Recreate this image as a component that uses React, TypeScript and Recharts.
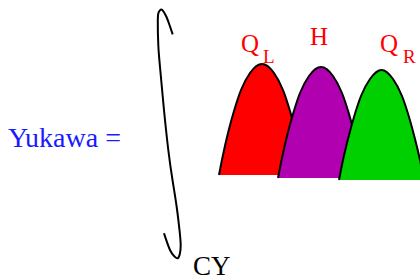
import React from 'react';
import { ComposedChart, Area, Line, XAxis, YAxis } from 'recharts';

// three bumps (x, height above the floor)
const qlBump = [
  { x: 219, y: 0 }, { x: 223, y: 20 }, { x: 228, y: 42 }, { x: 234, y: 64 },
  { x: 241, y: 85 }, { x: 250, y: 102 }, { x: 262, y: 111 }, { x: 274, y: 102 },
  { x: 283, y: 85 }, { x: 290, y: 64 }, { x: 296, y: 42 }, { x: 301, y: 20 },
  { x: 305, y: 0 },
];

const higgsBump = [
  { x: 278, y: -3 }, { x: 282, y: 17 }, { x: 287, y: 39 }, { x: 293, y: 61 },
  { x: 300, y: 82 }, { x: 309, y: 99 }, { x: 321, y: 108 }, { x: 333, y: 99 },
  { x: 342, y: 82 }, { x: 349, y: 61 }, { x: 355, y: 39 }, { x: 360, y: 17 },
  { x: 364, y: -3 },
];

const qrBump = [
  { x: 339, y: -5 }, { x: 343, y: 15 }, { x: 348, y: 36 }, { x: 354, y: 58 },
  { x: 361, y: 79 }, { x: 370, y: 96 }, { x: 381.5, y: 105 }, { x: 393, y: 96 },
  { x: 402, y: 79 }, { x: 409, y: 58 }, { x: 415, y: 36 }, { x: 420, y: 15 },
  { x: 424, y: -5 },
];

// hand drawn integral sign
const integralSign = [
  { x: 172.7, y: 140.7 }, { x: 169.5, y: 150 }, { x: 166.5, y: 158 },
  { x: 163.5, y: 163.5 }, { x: 161, y: 165.5 }, { x: 158.8, y: 163 },
  { x: 157.8, y: 155 }, { x: 158.3, y: 130 }, { x: 160, y: 108 },
  { x: 163.5, y: 70 }, { x: 168.3, y: 25 }, { x: 172.5, y: -5 },
  { x: 176.7, y: -32 }, { x: 179.5, y: -55 }, { x: 180.7, y: -70 },
  { x: 179.8, y: -79 }, { x: 177.7, y: -83.3 }, { x: 174.5, y: -81.5 },
  { x: 170, y: -75 }, { x: 164, y: -58.3 },
];

const serif = '"Liberation Serif", "Times New Roman", serif';

export default function App() {
  return (
    <div style={{ position: 'absolute', left: 0, top: 0, background: '#fff' }}>
      <ComposedChart width={420} height={278} margin={{ top: 0, right: 0, bottom: 0, left: 0 }}>
        <XAxis type="number" dataKey="x" domain={[0, 420]} allowDataOverflow hide />
        <YAxis type="number" dataKey="y" domain={[-103, 175]} allowDataOverflow hide />
        <Area
          data={qlBump}
          dataKey="y"
          type="monotone"
          baseValue={0}
          fill="#ff0000"
          fillOpacity={1}
          stroke="#000"
          strokeWidth={2}
          dot={false}
          activeDot={false}
          isAnimationActive={false}
        />
        <Area
          data={higgsBump}
          dataKey="y"
          type="monotone"
          baseValue={-3}
          fill="#b000b0"
          fillOpacity={1}
          stroke="#000"
          strokeWidth={2}
          dot={false}
          activeDot={false}
          isAnimationActive={false}
        />
        <Area
          data={qrBump}
          dataKey="y"
          type="monotone"
          baseValue={-5}
          fill="#00d000"
          fillOpacity={1}
          stroke="#000"
          strokeWidth={2}
          dot={false}
          activeDot={false}
          isAnimationActive={false}
        />
        <Line
          data={integralSign}
          dataKey="y"
          type="natural"
          stroke="#000"
          strokeWidth={2}
          dot={false}
          activeDot={false}
          isAnimationActive={false}
        />
        <text x={8} y={147} fontFamily={serif} fontSize={28} fill="#1a1aff">Yukawa =</text>
        <text x={241} y={52} fontFamily={serif} fontSize={25} fill="#ff0000">Q</text>
        <text x={263} y={63} fontFamily={serif} fontSize={19} fill="#ff0000">L</text>
        <text x={310} y={45} fontFamily={serif} fontSize={25} fill="#ff0000">H</text>
        <text x={380} y={52} fontFamily={serif} fontSize={25} fill="#ff0000">Q</text>
        <text x={403} y={63} fontFamily={serif} fontSize={19} fill="#ff0000">R</text>
        <text x={193} y={275} fontFamily={serif} fontSize={27} fill="#000">CY</text>
      </ComposedChart>
    </div>
  );
}
